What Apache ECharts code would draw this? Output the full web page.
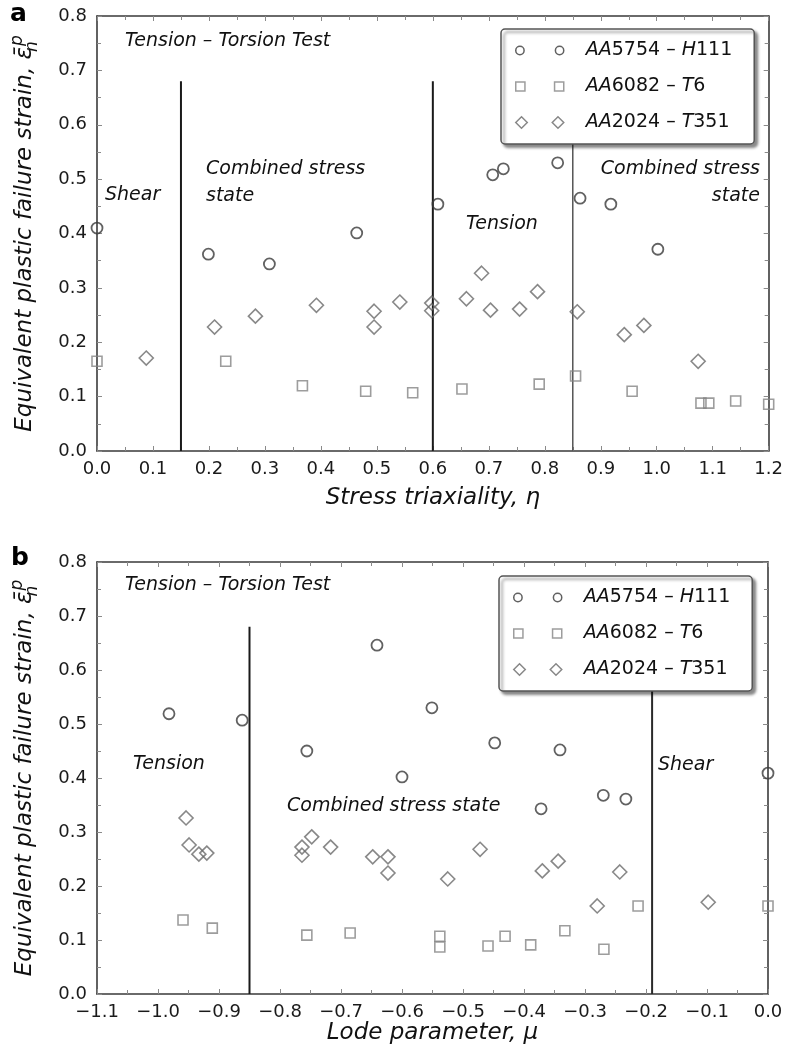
<!DOCTYPE html>
<html>
<head>
<meta charset="utf-8">
<script src="https://cdn.jsdelivr.net/npm/echarts@6/dist/echarts.min.js"></script>
<style>
html,body{margin:0;padding:0;background:#fff;}
#chart{width:786px;height:1058px;}
</style>
</head>
<body>
<div id="chart"></div>
<script>
// ---------- data ----------
const seriesNames = ['AA5754 – H111', 'AA6082 – T6', 'AA2024 – T351'];

// Panel a: stress triaxiality
const triaxH111X = [0.0, 0.199, 0.308, 0.464, 0.609, 0.707, 0.726, 0.823, 0.863, 0.918, 1.002];
const triaxH111Y = [0.410, 0.362, 0.344, 0.401, 0.454, 0.508, 0.519, 0.530, 0.465, 0.454, 0.371];
const triaxT6X = [0.0, 0.230, 0.367, 0.480, 0.564, 0.652, 0.790, 0.855, 0.956, 1.079, 1.093, 1.141, 1.2];
const triaxT6Y = [0.165, 0.165, 0.120, 0.110, 0.107, 0.114, 0.123, 0.138, 0.110, 0.088, 0.088, 0.092, 0.086];
const triaxT351X = [0.088, 0.210, 0.283, 0.392, 0.495, 0.495, 0.541, 0.598, 0.598, 0.660, 0.687, 0.703, 0.755, 0.787, 0.858, 0.942, 0.977, 1.074];
const triaxT351Y = [0.171, 0.228, 0.248, 0.268, 0.257, 0.228, 0.274, 0.272, 0.258, 0.280, 0.327, 0.259, 0.261, 0.293, 0.256, 0.214, 0.231, 0.165];

// Panel b: Lode parameter
const lodeH111X = [-0.982, -0.862, -0.756, -0.641, -0.600, -0.551, -0.448, -0.372, -0.341, -0.270, -0.233, 0.0];
const lodeH111Y = [0.519, 0.507, 0.450, 0.646, 0.402, 0.530, 0.465, 0.343, 0.452, 0.368, 0.361, 0.409];
const lodeT6X = [-0.959, -0.911, -0.756, -0.685, -0.538, -0.538, -0.459, -0.431, -0.389, -0.333, -0.269, -0.213, 0.0];
const lodeT6Y = [0.137, 0.122, 0.109, 0.113, 0.107, 0.087, 0.089, 0.107, 0.091, 0.117, 0.083, 0.163, 0.163];
const lodeT351X = [-0.954, -0.949, -0.933, -0.920, -0.764, -0.764, -0.748, -0.717, -0.648, -0.623, -0.623, -0.525, -0.472, -0.370, -0.344, -0.280, -0.243, -0.098];
const lodeT351Y = [0.326, 0.276, 0.259, 0.261, 0.272, 0.257, 0.291, 0.272, 0.254, 0.254, 0.224, 0.213, 0.268, 0.228, 0.246, 0.163, 0.226, 0.170];

// region divider lines
const triaxDividers = [0.15, 0.6, 0.85];
const lodeDividers = [-0.85, -0.19];
const dividerTop = 0.68;

// axis ranges / ticks
const triaxRange = [0.0, 1.2];
const lodeRange = [-1.1, 0.0];
const strainRange = [0.0, 0.8];
const tickStep = 0.1;

// ---------- styles ----------
const FONT = 'DejaVu Sans';
const AXIS_COLOR = '#3a3a3a';
const TICK_COLOR = '#8a8a8a';
const markerStyles = [
  {symbol: 'circle', size: 11, color: '#3a3a3a', width: 1.8},
  {symbol: 'rect', size: 10, color: '#858585', width: 1.6},
  {symbol: 'diamond', size: 14, color: '#6a6a6a', width: 1.6}
];
const legendIcons = [
  'path://M0,4 A4,4 0 1,1 8,4 A4,4 0 1,1 0,4 Z M38,4 A4,4 0 1,1 46,4 A4,4 0 1,1 38,4 Z',
  'path://M0,0 L9,0 L9,9 L0,9 Z M38,0 L47,0 L47,9 L38,9 Z',
  'path://M0,6 L6,0 L12,6 L6,12 Z M38,6 L44,0 L50,6 L44,12 Z'
];
const legendRich = ['{i0|AA}{r|5754 – }{i|H}{r|111}', '{i0|AA}{r|6082 – }{i|T}{r|6}', '{i0|AA}{r|2024 – }{i|T}{r|351}'];

function fmt(v) {
  const r = Math.round(v * 10) / 10;
  return (r < 0 ? '\u2212' : '') + Math.abs(r).toFixed(1);
}

function zip(xs, ys) { return xs.map((x, i) => [x, ys[i]]); }

function xAxisPair(gridIndex, range, name, nameGap) {
  const base = {
    gridIndex, type: 'value', min: range[0], max: range[1], interval: tickStep,
    axisLine: {show: true, onZero: false, lineStyle: {color: AXIS_COLOR, width: 1.6}},
    axisTick: {show: true, inside: true, length: 5, lineStyle: {color: TICK_COLOR, width: 1}},
    minorTick: {show: true, splitNumber: 2, length: 4, lineStyle: {color: TICK_COLOR, width: 1}},
    splitLine: {show: false}
  };
  return [
    Object.assign({}, base, {
      position: 'bottom',
      axisLabel: {show: true, margin: 9, formatter: fmt, fontFamily: FONT, fontSize: 18, color: '#1a1a1a'},
      name, nameLocation: 'middle', nameGap,
      nameTextStyle: {fontFamily: FONT, fontStyle: 'italic', fontSize: 23, color: '#111'}
    }),
    Object.assign({}, base, {position: 'top', axisLabel: {show: false}})
  ];
}

function yAxisPair(gridIndex) {
  const base = {
    gridIndex, type: 'value', min: strainRange[0], max: strainRange[1], interval: tickStep,
    axisLine: {show: true, onZero: false, lineStyle: {color: AXIS_COLOR, width: 1.6}},
    axisTick: {show: true, inside: true, length: 5, lineStyle: {color: TICK_COLOR, width: 1}},
    minorTick: {show: true, splitNumber: 2, length: 4, lineStyle: {color: TICK_COLOR, width: 1}},
    splitLine: {show: false}
  };
  return [
    Object.assign({}, base, {
      position: 'left',
      axisLabel: {show: true, margin: 10, formatter: fmt, fontFamily: FONT, fontSize: 18, color: '#1a1a1a'},
      name: '{t|Equivalent plastic failure strain, }{e|ε\u0304}{sb|n}{sp|p}',
      nameLocation: 'middle', nameGap: 56,
      nameTextStyle: {
        fontFamily: FONT, fontStyle: 'italic', fontSize: 23, color: '#111',
        rich: {
          t: {fontFamily: FONT, fontStyle: 'italic', fontSize: 23, color: '#111', lineHeight: 32},
          e: {fontFamily: FONT, fontStyle: 'italic', fontSize: 23, color: '#111', lineHeight: 32},
          sb: {fontFamily: FONT, fontStyle: 'italic', fontSize: 17, color: '#111', verticalAlign: 'bottom', lineHeight: 18, width: 1},
          sp: {fontFamily: FONT, fontStyle: 'italic', fontSize: 17, color: '#111', verticalAlign: 'top', lineHeight: 18}
        }
      }
    }),
    Object.assign({}, base, {position: 'right', axisLabel: {show: false}})
  ];
}

function scatterSeries(gi, xs, ys, k) {
  const m = markerStyles[k];
  return {
    type: 'scatter', name: seriesNames[k], xAxisIndex: gi * 2, yAxisIndex: gi * 2,
    data: zip(xs, ys), symbol: m.symbol, symbolSize: m.size, z: 3,
    itemStyle: {color: 'rgba(0,0,0,0)', borderColor: m.color, borderWidth: m.width},
    emphasis: {disabled: true}
  };
}

function dividerSeries(gi, xs, colors, widths) {
  return xs.map((x, i) => ({
    type: 'line', xAxisIndex: gi * 2, yAxisIndex: gi * 2,
    data: [[x, strainRange[0]], [x, dividerTop]],
    symbol: 'none', silent: true, z: 2,
    lineStyle: {color: colors[i], width: widths[i]}
  }));
}

function legendFor(left, top) {
  return {
    orient: 'vertical', left, top,
    padding: [12, 22, 12, 14], itemGap: 17, itemWidth: 48, itemHeight: 12,
    backgroundColor: '#fff', borderColor: '#555', borderWidth: 1.5, borderRadius: 4,
    shadowColor: 'rgba(0,0,0,0.45)', shadowBlur: 3, shadowOffsetX: 3, shadowOffsetY: 3,
    selectedMode: false,
    data: seriesNames.map((n, k) => ({
      name: n, icon: legendIcons[k],
      itemStyle: {color: 'rgba(0,0,0,0)', borderColor: markerStyles[k].color, borderWidth: 1.5}
    })),
    formatter: name => legendRich[seriesNames.indexOf(name)],
    textStyle: {
      fontFamily: FONT, fontSize: 19, color: '#111',
      rich: {
        i0: {fontFamily: FONT, fontSize: 19, fontStyle: 'italic', color: '#111', padding: [0, 0, 0, 17]},
        i: {fontFamily: FONT, fontSize: 19, fontStyle: 'italic', color: '#111'},
        r: {fontFamily: FONT, fontSize: 19, color: '#111'}
      }
    }
  };
}

function label(text, x, y, opts) {
  return {
    type: 'text', left: x, top: y, z: 10, silent: true,
    style: Object.assign({
      text, fontFamily: FONT, fontStyle: 'italic', fontSize: 19, fill: '#111',
      verticalAlign: 'middle', align: 'left'
    }, opts || {})
  };
}
function labelR(text, xRight, y) {
  return {
    type: 'text', right: 786 - xRight, top: y, z: 10, silent: true,
    style: {text, fontFamily: FONT, fontStyle: 'italic', fontSize: 19, fill: '#111', align: 'right', verticalAlign: 'middle'}
  };
}

const chart = echarts.init(document.getElementById('chart'), null, {renderer: 'canvas'});

const option = {
  animation: false,
  backgroundColor: '#fff',
  grid: [
    {left: 97, top: 16, width: 674, height: 435, containLabel: false},
    {left: 97, top: 562, width: 671, height: 432, containLabel: false}
  ],
  xAxis: [].concat(
    xAxisPair(0, triaxRange, 'Stress triaxiality, η', 36),
    xAxisPair(1, lodeRange, 'Lode parameter, μ', 28)
  ),
  yAxis: [].concat(yAxisPair(0), yAxisPair(1)),
  legend: [legendFor(501, 29), legendFor(499, 576)],
  series: [].concat(
    dividerSeries(0, triaxDividers, ['#1a1a1a', '#1a1a1a', '#555'], [2, 2, 1.5]),
    dividerSeries(1, lodeDividers, ['#1a1a1a', '#2a2a2a'], [2, 2]),
    [
      scatterSeries(0, triaxH111X, triaxH111Y, 0),
      scatterSeries(0, triaxT6X, triaxT6Y, 1),
      scatterSeries(0, triaxT351X, triaxT351Y, 2),
      scatterSeries(1, lodeH111X, lodeH111Y, 0),
      scatterSeries(1, lodeT6X, lodeT6Y, 1),
      scatterSeries(1, lodeT351X, lodeT351Y, 2)
    ]
  ),
  graphic: [
    {type: 'text', left: 10, top: 2, z: 10, silent: true, style: {text: 'a', fontFamily: FONT, fontWeight: 'bold', fontSize: 25, fill: '#000'}},
    {type: 'text', left: 11, top: 546, z: 10, silent: true, style: {text: 'b', fontFamily: FONT, fontWeight: 'bold', fontSize: 25, fill: '#000'}},
    // panel a annotations
    label('Tension – Torsion Test', 125, 32),
    label('Shear', 105, 186),
    label('Combined stress', 206, 160),
    label('state', 206, 187),
    label('Tension', 466, 215),
    labelR('Combined stress', 760, 160),
    labelR('state', 760, 187),
    // panel b annotations
    label('Tension – Torsion Test', 125, 576),
    label('Tension', 133, 755),
    label('Combined stress state', 287, 797),
    label('Shear', 658, 756)
  ]
};
chart.setOption(option);
</script>
</body>
</html>
